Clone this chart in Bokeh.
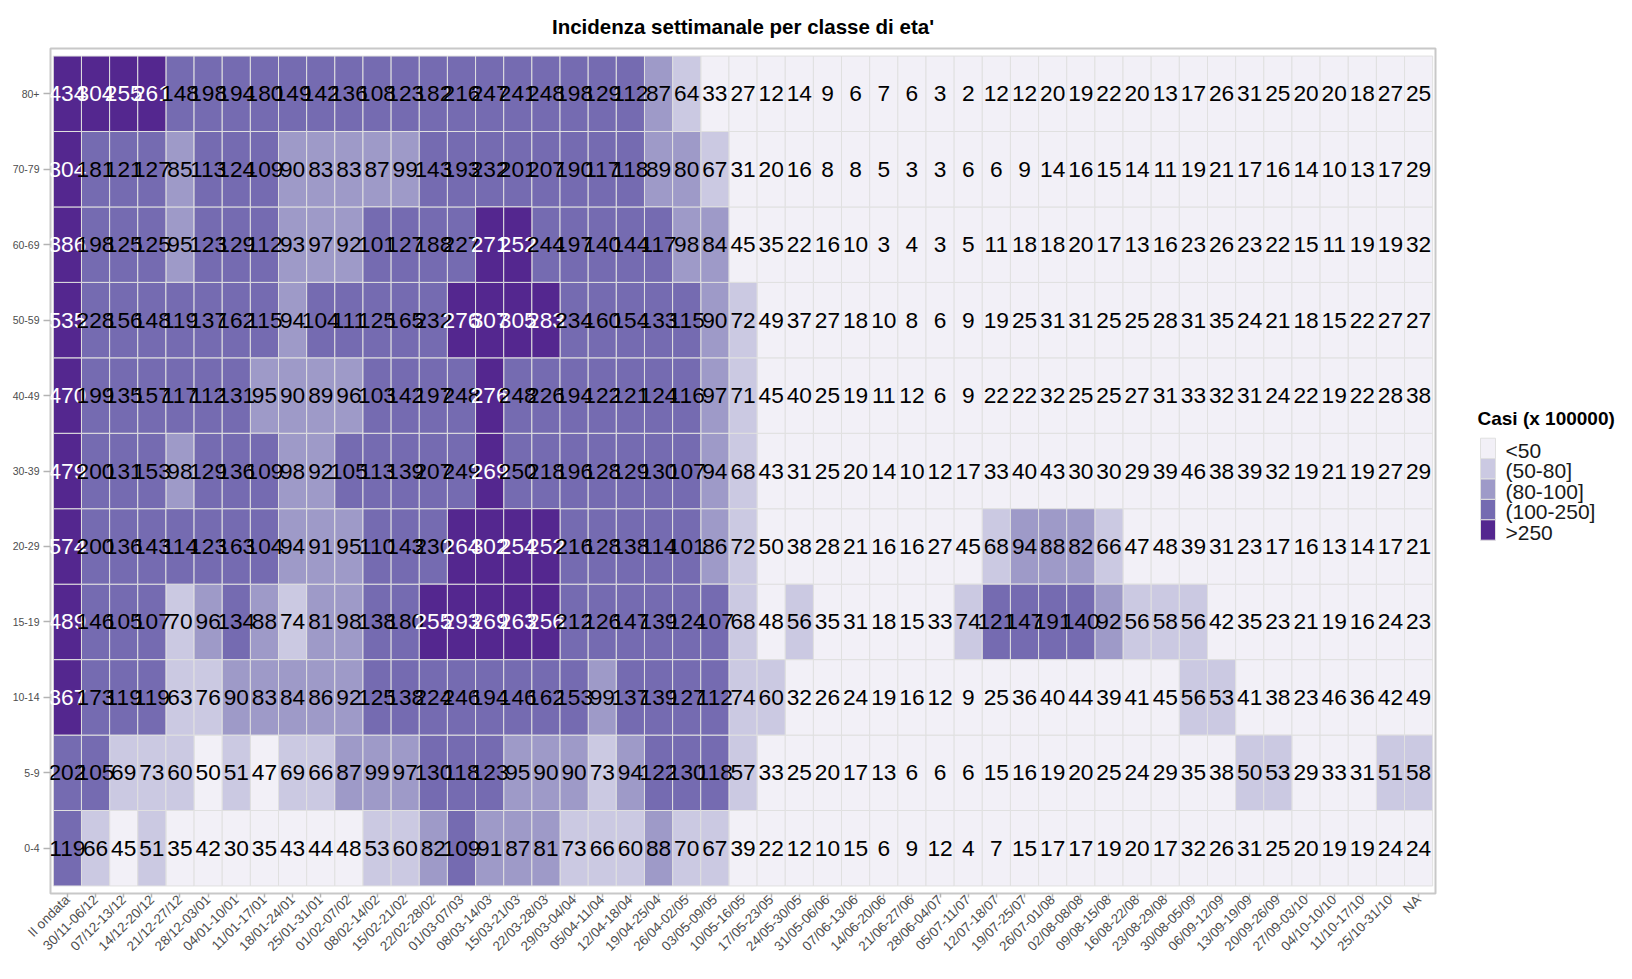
import math
from bokeh.plotting import figure
from bokeh.layouts import row
from bokeh.models import FactorRange, ColumnDataSource, Range1d
from bokeh.embed import file_html
from bokeh.resources import INLINE
from bokeh.core.properties import value

# ---------------- data ----------------
weeks = ["II ondata", "30/11-06/12", "07/12-13/12", "14/12-20/12", "21/12-27/12", "28/12-03/01",
         "04/01-10/01", "11/01-17/01", "18/01-24/01", "25/01-31/01", "01/02-07/02", "08/02-14/02",
         "15/02-21/02", "22/02-28/02", "01/03-07/03", "08/03-14/03", "15/03-21/03", "22/03-28/03",
         "29/03-04/04", "05/04-11/04", "12/04-18/04", "19/04-25/04", "26/04-02/05", "03/05-09/05",
         "10/05-16/05", "17/05-23/05", "24/05-30/05", "31/05-06/06", "07/06-13/06", "14/06-20/06",
         "21/06-27/06", "28/06-04/07", "05/07-11/07", "12/07-18/07", "19/07-25/07", "26/07-01/08",
         "02/08-08/08", "09/08-15/08", "16/08-22/08", "23/08-29/08", "30/08-05/09", "06/09-12/09",
         "13/09-19/09", "20/09-26/09", "27/09-03/10", "04/10-10/10", "11/10-17/10", "25/10-31/10", "NA"]

ages = ["0-4", "5-9", "10-14", "15-19", "20-29", "30-39", "40-49", "50-59", "60-69", "70-79", "80+"]

inc_0_4 = [119, 66, 45, 51, 35, 42, 30, 35, 43, 44, 48, 53, 60, 82, 109, 91, 87, 81, 73, 66, 60, 88, 70, 67,
           39, 22, 12, 10, 15, 6, 9, 12, 4, 7, 15, 17, 17, 19, 20, 17, 32, 26, 31, 25, 20, 19, 19, 24, 24]
inc_5_9 = [202, 105, 69, 73, 60, 49.8, 51, 47, 69, 66, 87, 99, 97, 130, 118, 123, 95, 90, 90, 73, 94, 122, 130, 118,
           57, 33, 25, 20, 17, 13, 6, 6, 6, 15, 16, 19, 20, 25, 24, 29, 35, 38, 50.3, 53, 29, 33, 31, 51, 58]
inc_10_14 = [367, 173, 119, 119, 63, 76, 90, 83, 84, 86, 92, 125, 138, 224, 246, 194, 146, 162, 153, 99, 137, 139, 127, 112,
             74, 60, 32, 26, 24, 19, 16, 12, 9, 25, 36, 40, 44, 39, 41, 45, 56, 53, 41, 38, 23, 46, 36, 42, 49]
inc_15_19 = [489, 146, 105, 107, 70, 96, 134, 88, 74, 81, 98, 138, 180, 255, 293, 269, 263, 256, 212, 126, 147, 139, 124, 107,
             68, 48, 56, 35, 31, 18, 15, 33, 74, 121, 147, 191, 140, 92, 56, 58, 56, 42, 35, 23, 21, 19, 16, 24, 23]
inc_20_29 = [574, 200, 136, 143, 114, 123, 163, 104, 94, 91, 95, 110, 143, 230, 264, 302, 254, 252, 216, 128, 138, 114, 101, 86,
             72, 49.7, 38, 28, 21, 16, 16, 27, 45, 68, 94, 88, 82, 66, 47, 48, 39, 31, 23, 17, 16, 13, 14, 17, 21]
inc_30_39 = [479, 200, 131, 153, 98, 129, 136, 109, 98, 92, 105, 113, 139, 207, 249, 269, 250, 218, 196, 128, 129, 130, 107, 94,
             68, 43, 31, 25, 20, 14, 10, 12, 17, 33, 40, 43, 30, 30, 29, 39, 46, 38, 39, 32, 19, 21, 19, 27, 29]
inc_40_49 = [470, 199, 135, 157, 117, 112, 131, 95, 90, 89, 96, 103, 142, 197, 248, 276, 248, 226, 194, 122, 121, 124, 116, 97,
             71, 45, 40, 25, 19, 11, 12, 6, 9, 22, 22, 32, 25, 25, 27, 31, 33, 32, 31, 24, 22, 19, 22, 28, 38]
inc_50_59 = [535, 228, 156, 148, 119, 137, 162, 115, 94, 104, 111, 125, 165, 232, 276, 307, 305, 283, 234, 160, 154, 133, 115, 90,
             72, 49, 37, 27, 18, 10, 8, 6, 9, 19, 25, 31, 31, 25, 25, 28, 31, 35, 24, 21, 18, 15, 22, 27, 27]
inc_60_69 = [386, 198, 125, 125, 95, 123, 129, 112, 93, 97, 92, 101, 127, 188, 227, 271, 252, 244, 197, 140, 144, 117, 98, 84,
             45, 35, 22, 16, 10, 3, 4, 3, 5, 11, 18, 18, 20, 17, 13, 16, 23, 26, 23, 22, 15, 11, 19, 19, 32]
inc_70_79 = [304, 181, 121, 127, 85, 113, 124, 109, 90, 83, 83, 87, 99, 143, 193, 232, 201, 207, 190, 117, 118, 89, 80.4, 67,
             31, 20, 16, 8, 8, 5, 3, 3, 6, 6, 9, 14, 16, 15, 14, 11, 19, 21, 17, 16, 14, 10, 13, 17, 29]
inc_80 = [434, 304, 255, 261, 148, 198, 194, 180, 149, 142, 136, 108, 123, 182, 216, 247, 241, 248, 198, 129, 112, 87, 64, 33,
          27, 12, 14, 9, 6, 7, 6, 3, 2, 12, 12, 20, 19, 22, 20, 13, 17, 26, 31, 25, 20, 20, 18, 27, 25]

rows = [inc_0_4, inc_5_9, inc_10_14, inc_15_19, inc_20_29, inc_30_39,
        inc_40_49, inc_50_59, inc_60_69, inc_70_79, inc_80]

classes = ["<50", "(50-80]", "(80-100]", "(100-250]", ">250"]
palette = ["#F2F0F7", "#CBC9E2", "#9E9AC8", "#756BB1", "#54278F"]
legend_title = "Casi (x 100000)"
chart_title = "Incidenza settimanale per classe di eta'"


def classe(v):
    if v < 50:
        return 0
    if v <= 80:
        return 1
    if v <= 100:
        return 2
    if v <= 250:
        return 3
    return 4


per_class = [dict(x=[], y=[]) for _ in classes]
lab = dict(x=[], y=[], t=[], c=[])
for age, vals in zip(ages, rows):
    for wk, v in zip(weeks, vals):
        k = classe(v)
        per_class[k]["x"].append(wk)
        per_class[k]["y"].append(age)
        lab["x"].append(wk)
        lab["y"].append(age)
        lab["t"].append(str(int(round(v))))
        lab["c"].append("white" if k == 4 else "black")

# ---------------- main heatmap ----------------
W, H = 1616, 963
BL, BT, BB = 50, 48, 70
FRAME_R = 1435
PW = FRAME_R + 3
TILE_LINE = "#E0E0E0"

p = figure(width=PW, height=H,
           x_range=FactorRange(factors=weeks, range_padding=0.1, range_padding_units="absolute"),
           y_range=FactorRange(factors=ages, range_padding=0.1, range_padding_units="absolute"),
           output_backend="svg", toolbar_location=None,
           min_border_left=BL, min_border_right=PW - FRAME_R, min_border_top=BT, min_border_bottom=BB)

for k in range(len(classes)):
    p.rect(x="x", y="y", width=1, height=1, source=ColumnDataSource(per_class[k]),
           fill_color=palette[k], line_color=TILE_LINE, line_width=1)

p.text(x="x", y="y", text="t", source=ColumnDataSource(lab), text_align="center",
       text_baseline="middle", text_font=value("Liberation Sans"), text_font_size="22.7px",
       text_color="c")

p.title.text = chart_title
p.title.align = "center"
p.title.text_font = "Liberation Sans"
p.title.text_font_size = "20.5px"
p.title.text_font_style = "bold"
p.title.text_color = "black"
p.title.standoff = 22

p.xgrid.visible = False
p.ygrid.visible = False
p.outline_line_color = "#C8C8C8"
p.outline_line_width = 2

for ax in (p.xaxis[0], p.yaxis[0]):
    ax.axis_line_color = None
    ax.major_tick_line_color = "#B3B3B3"
    ax.major_tick_line_width = 1.5
    ax.major_tick_in = 0
    ax.major_label_text_color = "#4D4D4D"
    ax.major_label_text_font = "Liberation Sans"

p.xaxis.major_label_orientation = math.pi / 4
p.xaxis.major_label_text_font_size = "13.5px"
p.xaxis.major_tick_out = 4
p.xaxis.major_label_standoff = 0
p.yaxis.major_tick_out = 7
p.yaxis.major_label_text_font_size = "10.5px"
p.yaxis.major_label_standoff = 4

# ---------------- legend panel (pixel coordinates, y downwards) ----------------
LW = W - PW
leg = figure(width=LW, height=H, x_range=Range1d(0, LW), y_range=Range1d(H - BB, BT),
             output_backend="svg", toolbar_location=None,
             min_border_left=0, min_border_right=0, min_border_top=BT, min_border_bottom=BB,
             x_axis_location=None, y_axis_location=None, outline_line_color=None)
leg.xgrid.visible = False
leg.ygrid.visible = False

key_left = 1480 - PW
key_w, key_h = 15, 20.4
key_top = 437.7
n = len(classes)
leg.rect(x=[key_left + key_w / 2] * n,
         y=[key_top + key_h * (i + 0.5) for i in range(n)],
         width=key_w, height=key_h, fill_color=palette, line_color=TILE_LINE, line_width=1)
leg.text(x=[1505 - PW] * n, y=[key_top + key_h * (i + 0.5) + 2 for i in range(n)], text=classes,
         text_align="left", text_baseline="middle", text_font=value("Liberation Sans"),
         text_font_size="21px", text_color="#1A1A1A")
leg.text(x=[1477 - PW], y=[418], text=[legend_title], text_align="left", text_baseline="middle",
         text_font=value("Liberation Sans"), text_font_size="19px", text_font_style="bold",
         text_color="black")

open("out.html", "w").write(file_html(row(p, leg), INLINE))
